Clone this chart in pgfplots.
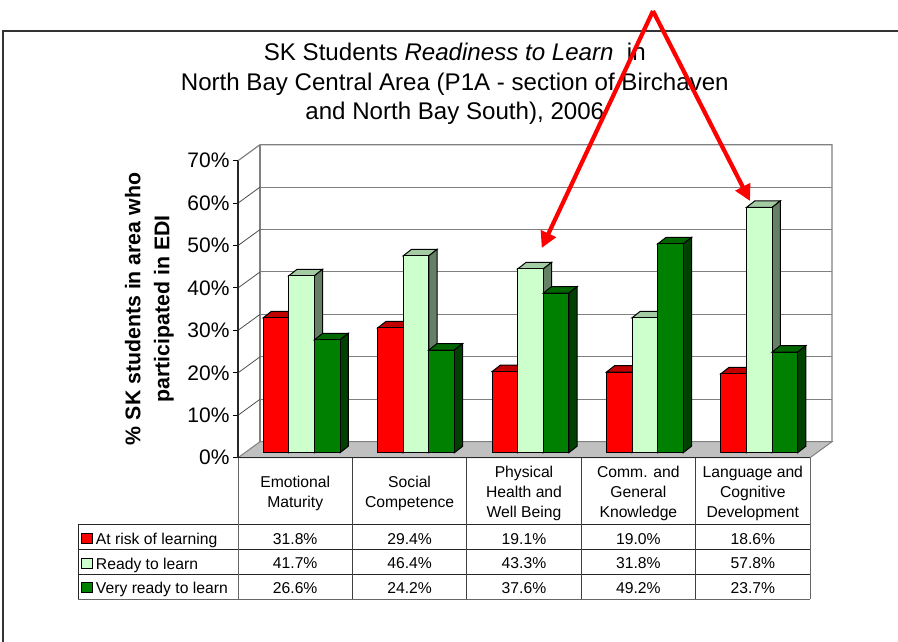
\documentclass[border=0pt]{standalone}
\usepackage{fontspec}
\setmainfont{Liberation Sans}
\usepackage{pgfplots}
\usepackage{pgfplotstable}
\pgfplotsset{compat=1.18}
\usetikzlibrary{arrows.meta}

\definecolor{riskF}{RGB}{255,0,0}
\definecolor{riskT}{RGB}{192,0,0}
\definecolor{riskS}{RGB}{128,0,0}
\definecolor{readyF}{RGB}{204,255,204}
\definecolor{readyT}{RGB}{163,204,163}
\definecolor{readyS}{RGB}{102,128,102}
\definecolor{veryF}{RGB}{0,128,0}
\definecolor{veryT}{RGB}{0,102,0}
\definecolor{veryS}{RGB}{0,64,0}
\definecolor{wall}{RGB}{128,128,128}
\definecolor{floorc}{RGB}{192,192,192}

% x is the centre of each category, values in percent
\pgfplotstableread{
x   risk ready very
0.5 31.8 41.7 26.6
1.5 29.4 46.4 24.2
2.5 19.1 43.3 37.6
3.5 19.0 31.8 49.2
4.5 18.6 57.8 23.7
}\edidata

% the whole cuboid, drawn from the bar's top right corner: marks go on top
% of the ybar plots, so the front face has to be in here as well
\pgfplotsset{
  bar faces/.style n args={4}{
    forget plot, only marks, scatter, scatter src=y,
    mark=*, mark size=0pt, draw=none, fill=none,
    visualization depends on={rawy \as \barval},
    xshift=6.4pt+#4, yshift=5pt,
    scatter/@pre marker code/.code={%
      \pgfmathsetlengthmacro\hh{\barval*4.243}%
      \filldraw[draw=black,line width=1pt,fill=#2] (0pt,0pt)--(8.3pt,6.5pt)--(-17.3pt,6.5pt)--(-25.6pt,0pt)--cycle;
      \filldraw[draw=black,line width=1pt,fill=#3] (0pt,0pt)--(8.3pt,6.5pt)--(8.3pt,6.5pt-\hh)--(0pt,-\hh)--cycle;
      \filldraw[draw=black,line width=1pt,fill=#1] (0pt,0pt)--(0pt,-\hh)--(-25.6pt,-\hh)--(-25.6pt,0pt)--cycle;
      \scope},
    scatter/@post marker code/.code={\endscope},
  },
  bar front/.style n args={2}{
    ybar, bar width=25.6pt, bar shift=#2, xshift=6.4pt, yshift=5pt,
    fill=#1, draw=black, line width=1pt,
  },
}

\begin{document}
\begin{tikzpicture}[x=1pt,y=-1pt]
  \path[use as bounding box] (0,0) rectangle (898,642);
  % outer frame
  \draw[line width=1.2pt,black!80] (3,642) -- (3,31) -- (898,31);

  % walls and floor
  \filldraw[draw=wall,fill=floorc,line width=1pt] (238,457.7)--(260,441.7)--(832,441.7)--(810,457.7)--cycle;
  \draw[wall,line width=1.2pt] (238,160.7)--(260,144.7)--(832,144.7)--(832,441.7);
  \draw[wall,line width=1.2pt] (260,144.7)--(260,441.7);
  \foreach \v in {1,...,6}
    \draw[black!70,line width=0.8pt] (238,457.7-\v*42.43)--(260,441.7-\v*42.43);

  \begin{axis}[
    at={(238pt,-457.7pt)}, anchor=south west,
    scale only axis, width=572pt, height=297pt,
    clip=false,
    xmin=0, xmax=5, ymin=0, ymax=70,
    axis y line*=left, axis x line*=bottom,
    axis line style={-, black!85, line width=1.2pt},
    xtick={0.5,1.5,2.5,3.5,4.5},
    xticklabels={Emotional\\Maturity, Social\\Competence, Physical\\Health and\\Well Being,
      Comm. and\\General\\Knowledge, Language and\\Cognitive\\Development},
    xtick style={draw=none},
    xticklabel style={align=center, anchor=center, yshift=-31pt,
      font=\fontsize{15.7}{20}\selectfont},
    ytick={0,10,...,70},
    yticklabel={\pgfmathprintnumber{\tick}\%},
    /pgf/number format/assume math mode=true,
    yticklabel style={font=\fontsize{21}{24}\selectfont},
    ytick style={black, line width=1pt},
    tick align=outside, major tick length=5pt,
    ymajorgrids,
    major grid style={xshift=22pt, yshift=16pt, draw=wall, line width=1pt},
    title={SK Students \textit{Readiness to Learn}\ \ in\\North Bay Central Area (P1A - section of Birchaven\\and North Bay South), 2006},
    title style={align=center, anchor=south,
      at={(axis description cs:0.379,1.09)},
      font=\fontsize{24.1}{29.3}\selectfont},
    ylabel={\% SK students in area who\\participated in EDI},
    ylabel style={align=center, anchor=center, rotate=0,
      at={(axis description cs:-0.155,0.501)},
      font=\fontsize{21.3}{29}\selectfont\bfseries},
    legend style={at={(axis description cs:-0.2736,-0.2517)}, anchor=north west,
      draw=none, fill=none, inner sep=0pt, outer sep=0pt,
      row sep=8.6pt, column sep=2.5pt,
      nodes={font=\fontsize{15.7}{16}\selectfont, text height=12pt, text depth=4pt, inner sep=0pt}},
    legend cell align=left,
    legend image code/.code={\filldraw[#1,line width=1pt] (3.5pt,-8pt) rectangle (14.5pt,2pt);},
  ]
    \addplot[bar front={riskF}{-25.6pt}] table[x=x,y=risk] {\edidata};
    \addlegendentry{At risk of learning}
    \addplot[bar front={readyF}{0pt}] table[x=x,y=ready] {\edidata};
    \addlegendentry{Ready to learn}
    \addplot[bar front={veryF}{25.6pt}] table[x=x,y=very] {\edidata};
    \addlegendentry{Very ready to learn}

    \addplot[bar faces={riskF}{riskT}{riskS}{-12.8pt}] table[x=x,y=risk] {\edidata};
    \addplot[bar faces={readyF}{readyT}{readyS}{12.8pt}] table[x=x,y=ready] {\edidata};
    \addplot[bar faces={veryF}{veryT}{veryS}{38.4pt}] table[x=x,y=very] {\edidata};
  \end{axis}

  % data table
  \foreach \yy in {524.7,549.7,574.3} \draw[line width=0.9pt,black!85] (78.3,\yy)--(810,\yy);
  \draw[line width=1.1pt,black!60] (78.3,599.3)--(810,599.3);
  \draw[line width=0.9pt,black!85] (78.3,524.7)--(78.3,599.3);
  \draw[line width=1pt,black!60] (238,457.7)--(238,599.3);
  \foreach \xx in {352.4,466.8,581.2,695.6} \draw[line width=0.9pt,black!75] (\xx,457.7)--(\xx,599.3);
  \draw[line width=1pt,black!60] (810,457.7)--(810,599.3);
  \foreach \xx/\a/\b/\c in {295.2/31.8/41.7/26.6, 409.6/29.4/46.4/24.2, 524/19.1/43.3/37.6, 638.4/19.0/31.8/49.2, 752.8/18.6/57.8/23.7}{
    \node[font=\fontsize{15.7}{18}\selectfont] at (\xx,539) {\a\%};
    \node[font=\fontsize{15.7}{18}\selectfont] at (\xx,563.5) {\b\%};
    \node[font=\fontsize{15.7}{18}\selectfont] at (\xx,588) {\c\%};
  }

  % red callout arrows
  \draw[red,line width=4.2pt,-{Triangle[length=16pt,width=16pt]}] (653,11)--(541.7,248);
  \draw[red,line width=4.2pt,-{Triangle[length=16pt,width=16pt]}] (653,11)--(750,201);
\end{tikzpicture}
\end{document}
